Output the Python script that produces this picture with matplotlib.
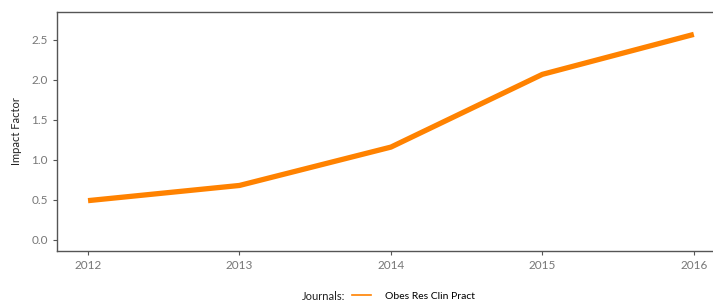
import matplotlib.pyplot as plt
from matplotlib.lines import Line2D

years = [2012, 2013, 2014, 2015, 2016]
impact = [0.49, 0.68, 1.16, 2.07, 2.57]
journal = "Obes Res Clin Pract"

plt.rcParams["font.family"] = ["Lato", "DejaVu Sans"]

fig = plt.figure(figsize=(7.13, 3.03), dpi=100)
ax = fig.add_axes([57 / 713, 1 - 251 / 303, (712 - 57) / 713, (251 - 12) / 303])

ax.plot(years, impact, color="#ff8200", linewidth=3.8, solid_capstyle="butt")

ax.set_xlim(2011.795, 2016.12)
ax.set_ylim(-0.14, 2.85)
ax.set_xticks(years)
ax.set_yticks([0.0, 0.5, 1.0, 1.5, 2.0, 2.5])
ax.set_yticklabels(["0.0", "0.5", "1.0", "1.5", "2.0", "2.5"])
ax.tick_params(colors="#555555", labelcolor="#777777", labelsize=8.5, length=3)

for side in ["left", "bottom", "top"]:
    ax.spines[side].set_color("#555555")
    ax.spines[side].set_linewidth(1.0)
ax.spines["right"].set_visible(False)

fig.text(16 / 713, 1 - 131 / 303, "Impact Factor", fontsize=8, color="#222222",
         rotation=90, ha="center", va="center")

fig.text(345 / 713, 1 - 296 / 303, "Journals:", fontsize=8, color="#222222",
         ha="right", va="center")
handle = Line2D([], [], color="#ff8200", linewidth=1.2)
fig.legend([handle], [journal], loc="center left", bbox_to_anchor=(352 / 713, 1 - 296 / 303),
           frameon=False, fontsize=7.5, handlelength=1.8, handletextpad=1.4,
           borderpad=0, borderaxespad=0)

fig.savefig("out.png", dpi=100)
